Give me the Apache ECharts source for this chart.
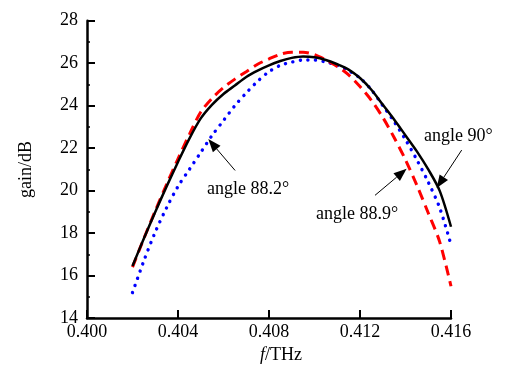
<!DOCTYPE html>
<html>
<head>
<meta charset="utf-8">
<script src="https://cdn.jsdelivr.net/npm/echarts@6/dist/echarts.min.js"></script>
<style>
html,body{margin:0;padding:0;background:#fff;}
#chart{width:506px;height:369px;}
</style>
</head>
<body>
<div id="chart"></div>
<script>
var freq = [0.4020,0.4025,0.4030,0.4035,0.4040,0.4045,0.4050,0.4055,0.4060,0.4065,0.4070,0.4075,0.4080,0.4085,0.4090,0.4095,0.4100,0.4105,0.4110,0.4115,0.4120,0.4125,0.4130,0.4135,0.4140,0.4145,0.4150,0.4155,0.4160];
var gain90   = [16.45,17.75,19.0,20.2,21.35,22.45,23.4,24.05,24.55,24.95,25.35,25.65,25.9,26.1,26.25,26.32,26.28,26.15,25.95,25.7,25.3,24.75,24.05,23.35,22.6,21.85,21.0,20.0,18.3];
var gain889  = [16.4,17.75,19.05,20.3,21.5,22.65,23.7,24.35,24.85,25.25,25.6,25.95,26.2,26.42,26.52,26.52,26.4,26.15,25.85,25.45,24.9,24.25,23.45,22.5,21.45,20.25,18.95,17.6,15.5];
var gain882  = [15.2,16.7,18.05,19.2,20.2,21.0,21.8,22.6,23.3,24.0,24.6,25.15,25.6,25.9,26.05,26.15,26.15,26.05,25.9,25.65,25.3,24.75,24.0,23.25,22.4,21.45,20.4,19.2,17.45];
var xTicks = ['0.400','0.404','0.408','0.412','0.416'];
var yTicks = [14,16,18,20,22,24,26,28];
var labels = ['angle 88.2°','angle 88.9°','angle 90°'];
// arrows: [tailF, tailG, tipF, tipG]
var arrow882 = [0.40651, 20.95, 0.40533, 22.43];
var arrow889 = [0.41266, 19.78, 0.41405, 21.03];
var arrow90  = [0.41647, 21.91, 0.41537, 20.12];

function pairs(xs, ys){ return xs.map(function(x,i){return [x, ys[i]];}); }
var FONT = '"Liberation Serif", "Times New Roman", serif';

var chart = echarts.init(document.getElementById('chart'));
chart.setOption({
  animation:false,
  backgroundColor:'#fff',
  grid:{left:87,right:55,top:20.7,bottom:43},
  xAxis:{
    type:'value', min:0.400, max:0.416, interval:0.004,
    name:'{i|f}/THz', nameLocation:'middle', nameGap:26,
    nameTextStyle:{fontFamily:FONT,fontSize:18,color:'#000',padding:[0,0,0,24],
      rich:{i:{fontStyle:'italic',fontFamily:FONT,fontSize:18,color:'#000'}}},
    axisLine:{onZero:false,lineStyle:{color:'#000',width:2.5}},
    axisTick:{inside:true,length:8,lineStyle:{color:'#000',width:2}},
    axisLabel:{fontFamily:FONT,fontSize:18,color:'#000',margin:5,
      formatter:function(v){ var i=Math.round((v-0.400)/0.004); return xTicks[i]||''; }},
    splitLine:{show:false}
  },
  yAxis:{
    type:'value', min:14, max:28, interval:2,
    name:'gain/dB', nameLocation:'middle', nameGap:52,
    nameTextStyle:{fontFamily:FONT,fontSize:18,color:'#000'},
    axisLine:{onZero:false,lineStyle:{color:'#000',width:2.5}},
    axisTick:{inside:true,length:8,lineStyle:{color:'#000',width:2}},
    minorTick:{show:true,splitNumber:2,length:3,lineStyle:{color:'#000',width:1.5}},
    axisLabel:{fontFamily:FONT,fontSize:18,color:'#000',margin:9,
      formatter:function(v){ return yTicks.indexOf(v)>=0 ? String(v) : ''; }},
    splitLine:{show:false}
  },
  series:[
    {type:'line', data:pairs(freq,gain882), smooth:0.3, showSymbol:false, z:2,
     lineStyle:{color:'#0000ff',width:3.4,type:[0.1,7.5],cap:'round'}},
    {type:'line', data:pairs(freq,gain889), smooth:0.3, showSymbol:false, z:3,
     lineStyle:{color:'#ff0000',width:3,type:[10,6],cap:'butt'}},
    {type:'line', data:pairs(freq,gain90), smooth:0.3, showSymbol:false, z:4,
     lineStyle:{color:'#000',width:2.5}}
  ]
});

function arrowGraphics(a){
  var p0 = chart.convertToPixel({gridIndex:0},[a[0],a[1]]);
  var p1 = chart.convertToPixel({gridIndex:0},[a[2],a[3]]);
  var dx = p1[0]-p0[0], dy = p1[1]-p0[1];
  var L = Math.sqrt(dx*dx+dy*dy), ux = dx/L, uy = dy/L;
  var hl = 13, hw = 5;
  var bx = p1[0]-ux*hl, by = p1[1]-uy*hl;
  return [
    {type:'line', z:100, shape:{x1:p0[0],y1:p0[1],x2:bx,y2:by}, style:{stroke:'#000',lineWidth:1}},
    {type:'polygon', z:100, shape:{points:[[p1[0],p1[1]],[bx-uy*hw,by+ux*hw],[bx+uy*hw,by-ux*hw]]}, style:{fill:'#000'}}
  ];
}
var g = [].concat(arrowGraphics(arrow882), arrowGraphics(arrow889), arrowGraphics(arrow90));
g.push({type:'text', left:207, top:180, z:100, style:{text:labels[0], font:'18px '+FONT, fill:'#000'}});
g.push({type:'text', left:316, top:205, z:100, style:{text:labels[1], font:'18px '+FONT, fill:'#000'}});
g.push({type:'text', left:424, top:127, z:100, style:{text:labels[2], font:'18px '+FONT, fill:'#000'}});
chart.setOption({graphic:g});
</script>
</body>
</html>
